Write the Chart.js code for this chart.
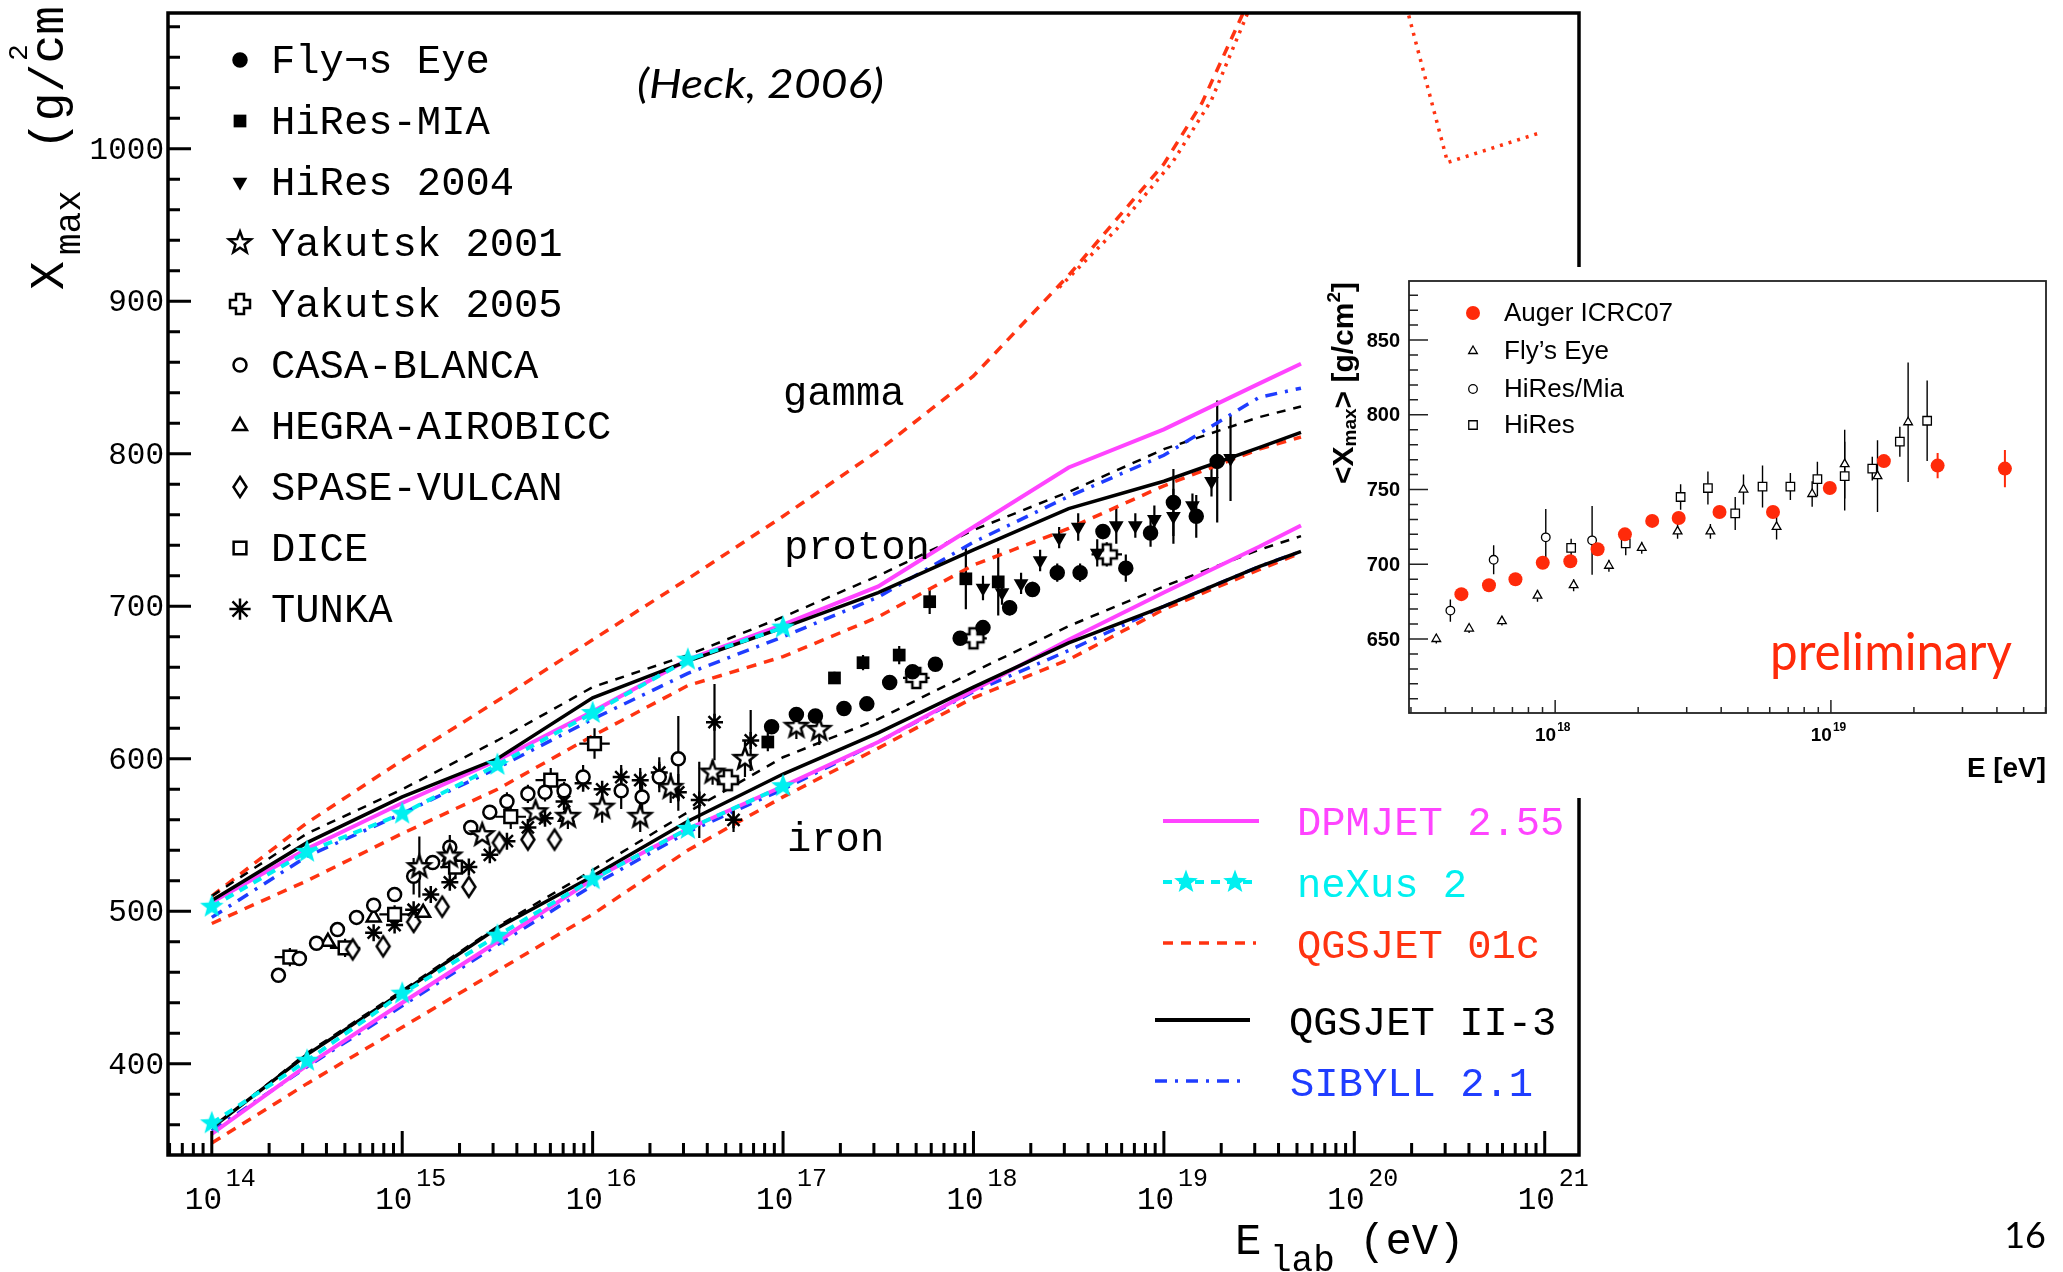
<!DOCTYPE html>
<html>
<head>
<meta charset="utf-8">
<script src="https://cdn.jsdelivr.net/npm/chart.js@4.4.1/dist/chart.umd.min.js"></script>
<style>
  html, body { margin: 0; padding: 0; background: #fff; overflow: hidden; }
  #wrap { position: relative; width: 2063px; height: 1272px; }
  #mainChart { position: absolute; left: 0; top: 0; }
  #insetBox { position: absolute; left: 1315px; top: 267px; width: 748px; height: 531px; background: #fff; }
</style>
</head>
<body>
<div id="wrap">
  <canvas id="mainChart" width="2063" height="1272"></canvas>
  <div id="insetBox"><canvas id="insetChart" width="748" height="531"></canvas></div>
</div>
<script>
// Xmax vs energy, main panel + Auger inset.
// Energies are kept as log10(E/eV), converted to eV for the log axis.

const MAGENTA = '#ff44ff', CYAN = '#00f0f0', RED = '#ff3311', BLUE = '#1f3dff', AUGER_RED = '#ff2a0a';

// ---- main panel: ticks ----
const decadeLabels = [14, 15, 16, 17, 18, 19, 20, 21];
const yTickLabels = [400, 500, 600, 700, 800, 900, 1000];

// ---- main panel: model curves ----
const modelLogE = [14, 14.5, 15, 15.5, 16, 16.5, 17, 17.5, 18, 18.5, 19, 19.5, 19.72];
const dpmjetP  = [506, 541, 571, 599, 631, 665, 688, 713, 752, 791, 816, 846, 859];
const dpmjetFe = [354, 399, 440, 480, 521, 554, 582, 611, 645, 678, 709, 739, 753];
const qgsIIP   = [507, 545, 575, 600, 640, 664, 686, 709, 737, 764, 782, 804, 814];
const qgsIIFe  = [358, 406, 447, 489, 523, 559, 590, 617, 647, 676, 700, 726, 736];
const sibyllP  = [496, 536, 564, 594, 626, 656, 680, 706, 742, 772, 799, 837, 843];
const sibyllFe = [356, 398, 438, 478, 517, 552, 580, 611, 644, 671, 700, 726, 736];
const qgs01P   = [492, 520, 551, 580, 615, 648, 667, 693, 727, 751, 779, 803, 811];
const qgs01Fe  = [348, 387, 424, 461, 498, 540, 575, 607, 640, 665, 698, 724, 735];
const dashedP  = [510, 551, 580, 612, 647, 668, 693, 720, 750, 775, 803, 824, 831];
const dashedFe = [358, 407, 448, 490, 527, 565, 601, 626, 657, 687, 713, 737, 746];

const nexusLogE = [14, 14.5, 15, 15.5, 16, 16.5, 17];
const nexusP  = [503, 539, 564, 596, 630, 665, 686];
const nexusFe = [361, 402, 446, 484, 521, 554, 582];

const gammaLogE = [14, 14.5, 15, 15.5, 16, 16.5, 17, 17.5, 18, 18.5, 19, 19.2, 19.42, 19.6];
const gammaX    = [510, 558, 599, 638, 678, 718, 759, 802, 851, 917, 990, 1030, 1090, 1140];
const gammaPreLogE = [18.45, 18.75, 19.05, 19.25, 19.45, 20.1, 20.49, 20.99];
const gammaPreX    = [909, 947, 992, 1032, 1092, 1175, 991, 1011];

// ---- main panel: measurements ----
const flysEyeLogE = [16.94, 17.07, 17.17, 17.32, 17.44, 17.56, 17.68, 17.80, 17.93, 18.05, 18.19, 18.31, 18.44, 18.56, 18.68, 18.80, 18.93, 19.05, 19.17, 19.28];
const flysEyeX    = [621, 629, 628, 633, 636, 650, 657, 662, 679, 686, 699, 711, 722, 722, 749, 725, 748, 768, 759, 795];
const flysEyeErr  = [0, 0, 0, 0, 0, 0, 0, 0, 0, 4, 5, 5, 6, 6, 5, 9, 9, 22, 14, 40];

const hiresMiaLogE = [16.92, 17.27, 17.42, 17.61, 17.77, 17.96, 18.13];
const hiresMiaX    = [611, 653, 663, 668, 703, 718, 716];
const hiresMiaErr  = [6, 4, 5, 6, 8, 20, 22];

const hires04LogE = [18.05, 18.15, 18.25, 18.35, 18.45, 18.55, 18.65, 18.75, 18.85, 18.95, 19.05, 19.15, 19.25, 19.35];
const hires04X    = [712, 709, 715, 730, 745, 752, 735, 753, 753, 757, 759, 766, 782, 797];
const hires04Err  = [8, 8, 7, 7, 7, 9, 9, 12, 8, 9, 18, 8, 10, 28];

const yak01LogE = [15.09, 15.25, 15.42, 15.70, 15.87, 16.05, 16.25, 16.41, 16.63, 16.80, 17.07, 17.19];
const yak01X    = [529, 536, 550, 565, 562, 568, 562, 581, 591, 600, 621, 619];
const yak01Err  = [20, 0, 0, 0, 8, 10, 10, 10, 8, 12, 8, 10];

const yak05LogE = [16.71, 17.70, 18.00, 18.70];
const yak05X    = [586, 653, 679, 734];
const yak05Err  = [5, 5, 6, 8];
const yak05ErrE = [0.06, 0.07, 0.07, 0.08];

const casaLogE = [14.35, 14.46, 14.55, 14.66, 14.76, 14.85, 14.96, 15.06, 15.16, 15.25, 15.36, 15.46, 15.55, 15.66, 15.75, 15.85, 15.95, 16.15, 16.26, 16.35, 16.45];
const casaX    = [458, 469, 479, 488, 496, 504, 511, 523, 532, 542, 555, 565, 572, 577, 578, 579, 588, 579, 575, 588, 600];
const casaErr  = [0, 0, 0, 0, 0, 0, 0, 12, 0, 8, 0, 0, 6, 6, 6, 6, 8, 12, 10, 10, 28];

const hegraLogE = [14.61, 14.85, 15.11, 15.25, 15.86];
const hegraX    = [480, 496, 499, 536, 562];

const spaseLogE = [14.74, 14.90, 15.06, 15.21, 15.35, 15.51, 15.66, 15.80];
const spaseX    = [475, 477, 493, 503, 516, 545, 547, 547];

const diceLogE = [14.41, 14.70, 14.96, 15.28, 15.57, 15.78, 16.01];
const diceX    = [470, 476, 498, 529, 562, 586, 610];
const diceErr  = [6, 6, 6, 8, 8, 8, 10];
const diceErrE = [0.08, 0.08, 0.08, 0.08, 0.08, 0.08, 0.08];

const tunkaLogE = [14.85, 14.96, 15.06, 15.15, 15.25, 15.35, 15.46, 15.55, 15.66, 15.75, 15.85, 15.95, 16.05, 16.15, 16.25, 16.35, 16.45, 16.56, 16.64, 16.74, 16.83];
const tunkaX    = [486, 491, 501, 511, 519, 529, 537, 546, 555, 561, 572, 584, 580, 588, 586, 591, 578, 573, 624, 560, 612];
const tunkaErr  = [0, 0, 0, 0, 0, 0, 0, 0, 0, 0, 0, 0, 0, 8, 8, 10, 12, 25, 25, 8, 20];

// ---- inset: Auger ICRC07 and others ----
const insetYTicks = [650, 700, 750, 800, 850];
const insetDecades = [18, 19];

const augerLogE = [17.66, 17.76, 17.856, 17.955, 18.055, 18.154, 18.253, 18.352, 18.448, 18.596, 18.79, 18.996, 19.192, 19.387, 19.631];
const augerX    = [680, 686, 690, 701, 702, 710, 720, 729, 731, 735, 735, 751, 769, 766, 764];
const augerErr  = [3, 3, 3, 3, 3, 3, 3, 3, 3, 3, 3, 3, 4, 8.5, 12.5];

const feLogE = [17.569, 17.688, 17.807, 17.936, 18.067, 18.195, 18.314, 18.444, 18.563, 18.683, 18.803, 18.932, 19.05, 19.169, 19.28];
const feX    = [650, 657, 662, 679, 686, 699, 711, 722, 722, 750, 725, 747, 767, 759, 795];
const feErr  = [3, 3, 3, 4, 4, 4, 4, 5, 5, 10, 8.5, 8.5, 23, 24, 40];

const miaLogE = [17.62, 17.777, 17.966, 18.134];
const miaX    = [669, 703, 718, 716];
const miaErr  = [7.5, 9.7, 19, 23];

const hiresLogE = [18.058, 18.256, 18.455, 18.554, 18.653, 18.752, 18.853, 18.951, 19.05, 19.15, 19.25, 19.349];
const hiresX    = [711, 714, 745, 751, 734, 752, 752, 757, 759, 764, 782, 796];
const hiresErr  = [6, 8, 8.5, 11, 11, 14, 9, 11.5, 23, 8, 10, 27];

// ---------------------------------------------------------------
const toXY = (logE, vals) => logE.map((l, i) => ({ x: Math.pow(10, l), y: vals[i] }));

function makeMarker(size, paint) {
  const c = document.createElement('canvas');
  c.width = size; c.height = size;
  const g = c.getContext('2d');
  g.translate(size / 2, size / 2);
  paint(g);
  return c;
}
function starPath(g, R, r) {
  g.beginPath();
  for (let i = 0; i < 10; i++) {
    const ang = -Math.PI / 2 + i * Math.PI / 5;
    const rr = i % 2 ? r : R;
    g.lineTo(rr * Math.cos(ang), rr * Math.sin(ang));
  }
  g.closePath();
}
const openStar = makeMarker(30, g => {
  starPath(g, 11.5, 4.8);
  g.fillStyle = '#fff'; g.fill();
  g.lineWidth = 2.5; g.strokeStyle = '#000'; g.stroke();
});
const cyanStar = makeMarker(30, g => {
  starPath(g, 12.5, 5.2);
  g.fillStyle = CYAN; g.fill();
});
const openCross = makeMarker(30, g => {
  const a = 4, b = 10;
  const pts = [[-a,-b],[a,-b],[a,-a],[b,-a],[b,a],[a,a],[a,b],[-a,b],[-a,a],[-b,a],[-b,-a],[-a,-a]];
  g.beginPath();
  pts.forEach(p => g.lineTo(p[0], p[1]));
  g.closePath();
  g.fillStyle = '#fff'; g.fill();
  g.lineWidth = 2.5; g.strokeStyle = '#000'; g.stroke();
});
const openDiamond = makeMarker(30, g => {
  g.beginPath();
  g.moveTo(0, -10); g.lineTo(6.5, 0); g.lineTo(0, 10); g.lineTo(-6.5, 0);
  g.closePath();
  g.fillStyle = '#fff'; g.fill();
  g.lineWidth = 2.5; g.strokeStyle = '#000'; g.stroke();
});

function points(label, logE, vals, opts) {
  return Object.assign({
    label: label, data: toXY(logE, vals), showLine: false,
    pointStyle: 'circle', pointRadius: 6.5,
    pointBackgroundColor: '#000', pointBorderColor: '#000', pointBorderWidth: 2.5,
    inLegend: true
  }, opts);
}
function curve(label, logE, vals, color, dash, width, extra) {
  return Object.assign({
    label: label, data: toXY(logE, vals), showLine: true,
    borderColor: color, borderWidth: width, borderDash: dash,
    pointRadius: 0, tension: 0, fill: false
  }, extra || {});
}

// error bars under the markers
const errorBars = {
  id: 'errorBars',
  beforeDatasetsDraw(chart) {
    const { ctx, chartArea: a, scales: { x, y } } = chart;
    ctx.save();
    ctx.beginPath();
    ctx.rect(a.left, a.top, a.right - a.left, a.bottom - a.top);
    ctx.clip();
    chart.data.datasets.forEach(ds => {
      if (!ds.errY && !ds.errE) return;
      ctx.strokeStyle = ds.errColor || '#000';
      ctx.lineWidth = ds.errWidth || 2.2;
      ctx.beginPath();
      ds.data.forEach((p, i) => {
        const px = x.getPixelForValue(p.x), py = y.getPixelForValue(p.y);
        const ey = ds.errY ? ds.errY[i] : 0;
        if (ey) {
          ctx.moveTo(px, y.getPixelForValue(p.y - ey));
          ctx.lineTo(px, y.getPixelForValue(p.y + ey));
        }
        const ee = ds.errE ? ds.errE[i] : 0;
        if (ee) {
          ctx.moveTo(x.getPixelForValue(p.x / Math.pow(10, ee)), py);
          ctx.lineTo(x.getPixelForValue(p.x * Math.pow(10, ee)), py);
        }
      });
      ctx.stroke();
    });
    ctx.restore();
  }
};

function drawMarker(ctx, ds, px, py, grow) {
  ctx.save();
  ctx.fillStyle = ds.pointBackgroundColor;
  ctx.strokeStyle = ds.pointBorderColor;
  ctx.lineWidth = ds.pointBorderWidth;
  Chart.helpers.drawPoint(ctx, {
    pointStyle: ds.pointStyle, radius: ds.pointRadius * (grow || 1),
    rotation: ds.pointRotation || 0, borderWidth: ds.pointBorderWidth
  }, px, py);
  ctx.restore();
}

// draws text runs [{t, font, dy}] starting at (x, y); squeezed to width if given
function drawRuns(ctx, runs, x, y, width) {
  let total = 0;
  runs.forEach(r => { ctx.font = r.font; r.w = ctx.measureText(r.t).width; total += r.w; });
  const s = width ? width / total : 1;
  ctx.save();
  ctx.translate(x, y);
  ctx.scale(s, 1);
  let cx = 0;
  runs.forEach(r => { ctx.font = r.font; ctx.fillText(r.t, cx, r.dy || 0); cx += r.w; });
  ctx.restore();
}

// ---- main chart ----
const mainDecor = {
  id: 'mainDecor',
  afterDraw(chart) {
    const { ctx, chartArea: a, scales: { x, y } } = chart;
    ctx.save();
    ctx.strokeStyle = '#000';
    ctx.fillStyle = '#000';

    // ticks inside the frame
    ctx.lineWidth = 3;
    ctx.beginPath();
    for (let v = 360; v <= 1080; v += 20) {
      const py = y.getPixelForValue(v);
      ctx.moveTo(a.left, py);
      ctx.lineTo(a.left + (v % 100 === 0 ? 23 : 12), py);
    }
    for (let d = 13; d <= 21; d++) {
      for (let k = 1; k <= 9; k++) {
        const e = k * Math.pow(10, d);
        if (e < x.min || e > x.max) continue;
        const px = x.getPixelForValue(e);
        ctx.moveTo(px, a.bottom);
        ctx.lineTo(px, a.bottom - (k === 1 ? 24 : 12));
      }
    }
    ctx.stroke();
    ctx.lineWidth = 3.5;
    ctx.strokeRect(a.left, a.top, a.right - a.left, a.bottom - a.top);

    // tick labels
    ctx.font = '31px "Liberation Mono"';
    ctx.textAlign = 'right';
    ctx.textBaseline = 'middle';
    yTickLabels.forEach(v => ctx.fillText(String(v), a.left - 4, y.getPixelForValue(v) + 2));
    ctx.textAlign = 'left';
    ctx.textBaseline = 'alphabetic';
    decadeLabels.forEach(d => {
      const px = x.getPixelForValue(Math.pow(10, d));
      ctx.font = '31px "Liberation Mono"';
      ctx.fillText('10', px - 27, a.bottom + 54);
      ctx.font = '25px "Liberation Mono"';
      ctx.fillText(String(d), px + 14, a.bottom + 31);
    });

    // axis titles
    ctx.font = '44px "Liberation Mono"';
    ctx.fillText('E', 1235, 1254);
    ctx.font = '36px "Liberation Mono"';
    ctx.fillText('lab', 1270, 1271);
    ctx.font = '44px "Liberation Mono"';
    ctx.fillText('(eV)', 1359, 1254);

    ctx.save();
    ctx.translate(63, 290);
    ctx.rotate(-Math.PI / 2);
    ctx.font = '48px "Liberation Mono"';
    ctx.fillText('X', 0, 0);
    ctx.font = '36px "Liberation Mono"';
    ctx.fillText('max', 35, 17);
    ctx.font = '48px "Liberation Mono"';
    ctx.fillText('(g/cm)', 140, 0);
    ctx.font = '28px "Liberation Mono"';
    ctx.fillText('2', 229, -36);
    ctx.restore();

    // experiment legend
    let row = 0;
    chart.data.datasets.forEach(ds => {
      if (!ds.inLegend) return;
      const base = 73 + row * 61;
      drawMarker(ctx, ds, 240, base - 13, ds.legendGrow);
      ctx.fillStyle = '#000';
      ctx.font = '40.5px "Liberation Mono"';
      ctx.fillText(ds.label, 271, base);
      row++;
    });

    // annotations
    ctx.fillStyle = '#000';
    drawRuns(ctx, [{ t: '(Heck, 2006)', font: 'italic 40px Lato' }], 637, 98, 247);
    ctx.font = '40.5px "Liberation Mono"';
    ctx.fillText('gamma', 783, 405);
    ctx.fillText('proton', 784, 559);
    ctx.fillText('iron', 787, 851);

    // model legend
    const models = [
      { label: 'DPMJET 2.55', color: MAGENTA, dash: [], w: 4, x0: 1163, x1: 1259, ly: 821, tx: 1297, ty: 835 },
      { label: 'neXus 2', color: CYAN, dash: [9, 7], w: 4, x0: 1163, x1: 1256, ly: 882, tx: 1297, ty: 897, stars: [1186, 1235] },
      { label: 'QGSJET 01c', color: RED, dash: [10, 8], w: 3.5, x0: 1163, x1: 1256, ly: 943, tx: 1297, ty: 958 },
      { label: 'QGSJET II-3', color: '#000', dash: [], w: 4, x0: 1155, x1: 1250, ly: 1020, tx: 1289, ty: 1035 },
      { label: 'SIBYLL 2.1', color: BLUE, dash: [12, 8, 3, 8], w: 3.5, x0: 1155, x1: 1241, ly: 1081, tx: 1290, ty: 1096 }
    ];
    models.forEach(m => {
      ctx.save();
      ctx.strokeStyle = m.color;
      ctx.lineWidth = m.w;
      ctx.setLineDash(m.dash);
      ctx.beginPath();
      ctx.moveTo(m.x0, m.ly);
      ctx.lineTo(m.x1, m.ly);
      ctx.stroke();
      ctx.restore();
      if (m.stars) m.stars.forEach(sx => ctx.drawImage(cyanStar, sx - 15, m.ly - 15));
      ctx.fillStyle = m.color;
      ctx.font = '40.5px "Liberation Mono"';
      ctx.fillText(m.label, m.tx, m.ty);
    });

    // page number
    ctx.fillStyle = '#000';
    ctx.font = '36px Lato';
    ctx.textAlign = 'right';
    ctx.fillText('16', 2046, 1248);
    ctx.restore();
  }
};

const mainChart = new Chart(document.getElementById('mainChart'), {
  type: 'scatter',
  data: {
    datasets: [
      points('Fly¬s Eye', flysEyeLogE, flysEyeX, { pointRadius: 6.5, errY: flysEyeErr }),
      points('HiRes-MIA', hiresMiaLogE, hiresMiaX, { pointStyle: 'rect', pointRadius: 9, pointBorderWidth: 0, errY: hiresMiaErr }),
      points('HiRes 2004', hires04LogE, hires04X, { pointStyle: 'triangle', pointRotation: 180, pointRadius: 8.5, pointBorderWidth: 0, errY: hires04Err }),
      points('Yakutsk 2001', yak01LogE, yak01X, { pointStyle: openStar, errY: yak01Err }),
      points('Yakutsk 2005', yak05LogE, yak05X, { pointStyle: openCross, errY: yak05Err, errE: yak05ErrE }),
      points('CASA-BLANCA', casaLogE, casaX, { pointBackgroundColor: '#fff', pointRadius: 6.5, errY: casaErr }),
      points('HEGRA-AIROBICC', hegraLogE, hegraX, { pointStyle: 'triangle', pointBackgroundColor: '#fff', pointRadius: 8 }),
      points('SPASE-VULCAN', spaseLogE, spaseX, { pointStyle: openDiamond }),
      points('DICE', diceLogE, diceX, { pointStyle: 'rect', pointBackgroundColor: '#fff', pointRadius: 9, errY: diceErr, errE: diceErrE }),
      points('TUNKA', tunkaLogE, tunkaX, { pointStyle: 'star', pointRadius: 8.5, legendGrow: 1.25, errY: tunkaErr }),

      curve('neXus p', nexusLogE, nexusP, CYAN, [9, 7], 4, { pointRadius: 6, pointStyle: cyanStar }),
      curve('neXus Fe', nexusLogE, nexusFe, CYAN, [9, 7], 4, { pointRadius: 6, pointStyle: cyanStar }),
      curve('QGSJET II p', modelLogE, qgsIIP, '#000', [], 3.5),
      curve('QGSJET II Fe', modelLogE, qgsIIFe, '#000', [], 3.5),
      curve('DPMJET p', modelLogE, dpmjetP, MAGENTA, [], 4),
      curve('DPMJET Fe', modelLogE, dpmjetFe, MAGENTA, [], 4),
      curve('SIBYLL p', modelLogE, sibyllP, BLUE, [12, 8, 3, 8], 3.5),
      curve('SIBYLL Fe', modelLogE, sibyllFe, BLUE, [12, 8, 3, 8], 3.5),
      curve('dashed p', modelLogE, dashedP, '#000', [9, 8], 2.5),
      curve('dashed Fe', modelLogE, dashedFe, '#000', [9, 8], 2.5),
      curve('QGSJET 01c p', modelLogE, qgs01P, RED, [10, 8], 3.5),
      curve('QGSJET 01c Fe', modelLogE, qgs01Fe, RED, [10, 8], 3.5),
      curve('gamma', gammaLogE, gammaX, RED, [10, 8], 3.5),
      curve('gamma preshower', gammaPreLogE, gammaPreX, RED, [3, 6], 3.5)
    ]
  },
  options: {
    responsive: false,
    animation: false,
    devicePixelRatio: 1,
    events: [],
    layout: { padding: { left: 168, top: 13, right: 484, bottom: 117 } },
    plugins: { legend: { display: false }, tooltip: { enabled: false } },
    scales: {
      x: { type: 'logarithmic', min: Math.pow(10, 13.77), max: Math.pow(10, 21.18), display: false },
      y: { type: 'linear', min: 340.2, max: 1089, display: false }
    }
  },
  plugins: [errorBars, mainDecor]
});

// ---- inset chart ----
const insetDecor = {
  id: 'insetDecor',
  afterDraw(chart) {
    const { ctx, chartArea: a, scales: { x, y } } = chart;
    ctx.save();
    ctx.strokeStyle = '#222';
    ctx.fillStyle = '#000';
    ctx.lineWidth = 1.5;
    ctx.beginPath();
    for (let v = 610; v <= 880; v += 10) {
      const py = y.getPixelForValue(v);
      ctx.moveTo(a.left, py);
      ctx.lineTo(a.left + (v % 50 === 0 ? 19 : 9), py);
    }
    for (let d = 17; d <= 19; d++) {
      for (let k = 1; k <= 9; k++) {
        const e = k * Math.pow(10, d);
        if (e < x.min || e > x.max) continue;
        const px = x.getPixelForValue(e);
        ctx.moveTo(px, a.bottom);
        ctx.lineTo(px, a.bottom - (k === 1 ? 13 : 6));
      }
    }
    ctx.stroke();
    ctx.lineWidth = 1.8;
    ctx.strokeRect(a.left, a.top, a.right - a.left, a.bottom - a.top);

    ctx.font = 'bold 20px "Liberation Sans"';
    ctx.textAlign = 'right';
    ctx.textBaseline = 'middle';
    insetYTicks.forEach(v => ctx.fillText(String(v), a.left - 9, y.getPixelForValue(v) + 1));
    ctx.textBaseline = 'alphabetic';
    insetDecades.forEach(d => {
      const px = x.getPixelForValue(Math.pow(10, d));
      ctx.textAlign = 'right';
      ctx.font = 'bold 19px "Liberation Sans"';
      ctx.fillText('10', px + 1, a.bottom + 28);
      ctx.textAlign = 'left';
      ctx.font = 'bold 12px "Liberation Sans"';
      ctx.fillText(String(d), px + 2, a.bottom + 18);
    });

    ctx.textAlign = 'left';
    drawRuns(ctx, [{ t: 'E [eV]', font: 'bold 28px "Liberation Sans"' }], 652, 510, 79);

    ctx.save();
    ctx.translate(38, 217);
    ctx.rotate(-Math.PI / 2);
    drawRuns(ctx, [
      { t: '<X', font: 'bold 30px "Liberation Sans"' },
      { t: 'max', font: 'bold 19px "Liberation Sans"', dy: 3 },
      { t: '> [g/cm', font: 'bold 30px "Liberation Sans"' },
      { t: '2', font: 'bold 19px "Liberation Sans"', dy: -13 },
      { t: ']', font: 'bold 30px "Liberation Sans"' }
    ], 0, 0, 202);
    ctx.restore();

    // legend
    const rowsY = [46, 84, 122, 158];
    chart.data.datasets.forEach((ds, i) => {
      drawMarker(ctx, ds, 158, rowsY[i]);
      ctx.fillStyle = '#000';
      ctx.font = '26px "Liberation Sans"';
      ctx.textBaseline = 'middle';
      ctx.fillText(ds.label, 189, rowsY[i] + 1);
      ctx.textBaseline = 'alphabetic';
    });

    ctx.fillStyle = AUGER_RED;
    drawRuns(ctx, [{ t: 'preliminary', font: '52px Lato' }], 455, 403, 242);
    ctx.restore();
  }
};

const insetChart = new Chart(document.getElementById('insetChart'), {
  type: 'scatter',
  data: {
    datasets: [
      { label: 'Auger ICRC07', data: toXY(augerLogE, augerX), pointStyle: 'circle', pointRadius: 7,
        pointBackgroundColor: AUGER_RED, pointBorderColor: AUGER_RED, pointBorderWidth: 0,
        errY: augerErr, errColor: AUGER_RED, errWidth: 2 },
      { label: 'Fly’s Eye', data: toXY(feLogE, feX), pointStyle: 'triangle', pointRadius: 5,
        pointBackgroundColor: '#fff', pointBorderColor: '#000', pointBorderWidth: 1.3, errY: feErr, errWidth: 1.4 },
      { label: 'HiRes/Mia', data: toXY(miaLogE, miaX), pointStyle: 'circle', pointRadius: 4.3,
        pointBackgroundColor: '#fff', pointBorderColor: '#000', pointBorderWidth: 1.3, errY: miaErr, errWidth: 1.4 },
      { label: 'HiRes', data: toXY(hiresLogE, hiresX), pointStyle: 'rect', pointRadius: 6,
        pointBackgroundColor: '#fff', pointBorderColor: '#000', pointBorderWidth: 1.3, errY: hiresErr, errWidth: 1.4 }
    ]
  },
  options: {
    responsive: false,
    animation: false,
    devicePixelRatio: 1,
    events: [],
    layout: { padding: { left: 94, top: 14, right: 17, bottom: 85 } },
    plugins: { legend: { display: false }, tooltip: { enabled: false } },
    scales: {
      x: { type: 'logarithmic', min: Math.pow(10, 17.47), max: Math.pow(10, 19.78), display: false },
      y: { type: 'linear', min: 600.5, max: 889.5, display: false }
    }
  },
  plugins: [errorBars, insetDecor]
});
</script>
</body>
</html>
